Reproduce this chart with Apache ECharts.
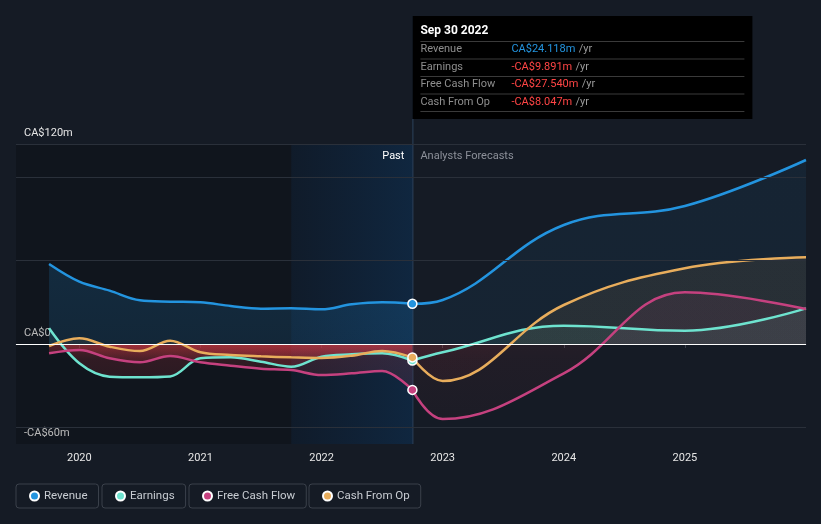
<!DOCTYPE html>
<html><head><meta charset="utf-8">
<script src="https://cdn.jsdelivr.net/npm/echarts@6/dist/echarts.min.js"></script>
<style>html,body{margin:0;padding:0;background:#151b25;}#c{width:821px;height:524px;}</style>
</head><body><div id="c"></div>
<script>
// ---------- data ----------
const pastX = [2019.75, 2020.0, 2020.25, 2020.5, 2020.75, 2021.0, 2021.25, 2021.5, 2021.75, 2022.0, 2022.25, 2022.5, 2022.75];
const revenuePast  = [48, 37.4, 32, 26.2, 25.4, 25, 22.8, 21.2, 21.4, 20.8, 23.8, 25, 24.118];
const earningsPast = [9.4, -11.6, -19.6, -20, -19.5, -8.6, -8, -10.6, -13.6, -7.6, -6.2, -5.6, -9.891];
const fcfPast      = [-5.6, -3.6, -8.6, -11, -7.2, -11, -13, -14.8, -15.6, -18.6, -17.6, -16.2, -27.54];
const cfoPast      = [-1.2, 3.4, -1.6, -4.2, 2, -5, -6.6, -7.4, -8, -8.4, -7, -4.2, -8.047];

const fcX = [2022.75, 2023.0, 2024.0, 2025.0, 2026.0];
const revenueFc  = [24.118, 26.4, 71.4, 82.8, 110.4];
const earningsFc = [-9.891, -5, 11, 8, 21.4];
const fcfFc      = [-27.54, -45, -17.6, 31, 21];
const cfoFc      = [-8.047, -22.2, 23.4, 45.4, 52];

const seriesNames = ['Revenue', 'Earnings', 'Free Cash Flow', 'Cash From Op'];
const yearTicks = [2020, 2021, 2022, 2023, 2024, 2025];
const gridValues = [-50, 50, 100, 120];
const yMin = -60, yMax = 120;
const xMin = 2019.477, xMax = 2026.0;
const highlightStart = 2021.75;
const tooltipDate = 'Sep 30 2022';
const pastLabel = 'Past';
const forecastLabel = 'Analysts Forecasts';

// ---------- chart ----------
const FONT = 'Roboto, "Noto Sans", sans-serif';
const colors = ['#2394df', '#6ee3cf', '#c5417f', '#e8ad5c'];
const pastData = [revenuePast, earningsPast, fcfPast, cfoPast];
const fcData = [revenueFc, earningsFc, fcfFc, cfoFc];
const pairs = (xs, ys) => xs.map((x, i) => [x, ys[i]]);

const chart = echarts.init(document.getElementById('c'));

function rgba(hex, a) {
  const n = parseInt(hex.slice(1), 16);
  return `rgba(${(n >> 16) & 255},${(n >> 8) & 255},${n & 255},${a})`;
}

const baseOption = {
  backgroundColor: '#151b25',
  animation: false,
  textStyle: { fontFamily: FONT },
  grid: { left: 16, right: 15, top: 144, bottom: 80 },
  xAxis: {
    type: 'value', min: xMin, max: xMax,
    splitLine: { show: false },
    axisLine: { show: true, lineStyle: { color: '#3b414b', width: 1 } },
    axisTick: { show: true, customValues: yearTicks, length: 4, lineStyle: { color: '#3b414b' } },
    axisLabel: { customValues: yearTicks, formatter: v => String(Math.round(v)), color: '#e6e6e6', fontSize: 11, margin: 9, fontFamily: FONT }
  },
  yAxis: {
    type: 'value', min: yMin, max: yMax, interval: 60,
    splitLine: { show: false }, axisLine: { show: false }, axisTick: { show: false },
    axisLabel: {
      inside: true, margin: 8, color: '#e6e6e6', fontSize: 11, fontFamily: FONT,
      verticalAlign: 'bottom', padding: [0, 0, 5, 0],
      formatter: v => v === yMax ? 'CA$' + yMax + 'm' : v === 0 ? 'CA$0' : v === yMin ? '-CA$' + Math.abs(yMin) + 'm' : ''
    }
  },
  legend: seriesNames.map((n, i) => ({
    data: [n], left: [16, 102, 189, 309][i], top: 484,
    icon: 'circle', itemWidth: 9, itemHeight: 9,
    padding: [6, 11, 6, 13], borderColor: '#3b414b', borderWidth: 1, borderRadius: 3,
    textStyle: { color: '#c8ccd2', fontSize: 11.5, fontFamily: FONT },
    selectedMode: false
  })),
  series: []
};

chart.setOption(baseOption);

const lastX = pastX[pastX.length - 1];
const lineX = chart.convertToPixel({ xAxisIndex: 0 }, lastX);
const topY = chart.convertToPixel({ yAxisIndex: 0 }, yMax);
const botY = chart.convertToPixel({ yAxisIndex: 0 }, yMin);
const f0 = (yMax - 0) / (yMax - yMin);

function areaGrad(color, aboveTop, aboveZero, redZero, redNear, redBot) {
  return new echarts.graphic.LinearGradient(0, topY, 0, botY, [
    { offset: 0, color: rgba(color, aboveTop) },
    { offset: f0, color: rgba(color, aboveZero) },
    { offset: f0, color: `rgba(230,60,70,${redZero})` },
    { offset: f0 + 0.05, color: `rgba(230,60,70,${redNear})` },
    { offset: 1, color: `rgba(230,60,70,${redBot})` }
  ], true);
}

const series = [];
// background series carrying grid lines, zero line and past shading
series.push({
  type: 'line', data: [[xMin, 0]], symbol: 'none', lineStyle: { opacity: 0 }, silent: true, z: 1,
  markArea: {
    silent: true,
    data: [
      [{ xAxis: xMin, itemStyle: { color: 'rgba(0,0,0,0.2)' } }, { xAxis: lastX }],
      [{ xAxis: highlightStart, itemStyle: {
          color: new echarts.graphic.LinearGradient(0, 0, 1, 0, [
            { offset: 0, color: 'rgba(15,60,110,0.16)' },
            { offset: 1, color: 'rgba(15,65,115,0.4)' }
          ]) } }, { xAxis: lastX }]
    ]
  },
  markLine: {
    silent: true, symbol: 'none', label: { show: false },
    data: gridValues.map(v => ({ yAxis: v, lineStyle: { color: '#2a303a', width: 1, type: 'solid' } }))
      .concat([{ yAxis: 0, lineStyle: { color: '#ffffff', width: 1, type: 'solid' } }])
  }
});

seriesNames.forEach((name, i) => {
  const c = colors[i];
  const isRev = i === 0;
  const n = pastData[i].length;
  series.push({
    name, type: 'line', z: 3, smooth: 0.35,
    data: pairs(pastX, pastData[i]),
    symbol: (v, p) => p.dataIndex === n - 1 ? 'circle' : 'none',
    symbolSize: 9, showSymbol: true,
    itemStyle: { color: c, borderColor: '#ffffff', borderWidth: 1.5 },
    lineStyle: { color: c, width: 2.5 },
    areaStyle: { origin: 0, color: isRev ? areaGrad(c, 0.32, 0.2, 0, 0, 0) : areaGrad(c, 0.1, 0.1, 0.45, 0.22, 0.04) }
  });
  series.push({
    name, type: 'line', z: 2, smooth: 0.4,
    data: pairs(fcX, fcData[i]),
    symbol: 'none',
    itemStyle: { color: c },
    lineStyle: { color: c, width: 2.5 },
    areaStyle: { origin: 0, color: isRev ? areaGrad(c, 0.11, 0.1, 0, 0, 0) : areaGrad(c, 0.12, 0.12, 0.1, 0.08, 0.04) }
  });
});

const fmt = v => (v < 0 ? '-' : '') + 'CA$' + Math.abs(v).toFixed(3) + 'm';
const tipRows = seriesNames.map((nm, i) => {
  const v = pastData[i][pastData[i].length - 1];
  return { nm, v, col: v < 0 ? '#ff4545' : colors[i] };
});

const boxTop = 16, boxW = 340, rowH = 17.5;
const graphics = [
  { type: 'line', z: 1, silent: true, shape: { x1: lineX + 0.5, y1: boxTop, x2: lineX + 0.5, y2: botY },
    style: { stroke: 'rgba(70,115,160,0.45)', lineWidth: 1 } },
  { type: 'rect', z: 100, shape: { x: lineX, y: boxTop, width: boxW, height: 103 }, style: { fill: '#000000' } },
  { type: 'text', z: 101, x: lineX + 8, y: boxTop + 15, style: { text: tooltipDate, fill: '#ffffff', font: `bold 12px ${FONT}`, verticalAlign: 'middle' } },
  { type: 'text', z: 101, x: lineX - 8, y: topY + 12, style: { text: pastLabel, fill: '#ffffff', font: `11px ${FONT}`, align: 'right', verticalAlign: 'middle' } },
  { type: 'text', z: 101, x: lineX + 8, y: topY + 12, style: { text: forecastLabel, fill: '#8c9099', font: `11px ${FONT}`, align: 'left', verticalAlign: 'middle' } }
];
for (let k = 0; k <= tipRows.length; k++) {
  const y = boxTop + 25.5 + k * rowH;
  graphics.push({ type: 'line', z: 101, shape: { x1: lineX + 8, y1: y, x2: lineX + 332, y2: y }, style: { stroke: '#3a3a3a', lineWidth: 1 } });
}
tipRows.forEach((r, k) => {
  const y = boxTop + 33.5 + k * rowH;
  graphics.push({ type: 'text', z: 101, x: lineX + 8, y, style: { text: r.nm, fill: '#8e8e8e', font: `11px ${FONT}`, verticalAlign: 'middle' } });
  graphics.push({ type: 'text', z: 101, x: lineX + 99, y, style: {
    text: `{v|${fmt(r.v)}} {u|/yr}`, verticalAlign: 'middle',
    rich: { v: { fill: r.col, font: `11px ${FONT}` }, u: { fill: '#9a9a9a', font: `11px ${FONT}` } } } });
});

chart.setOption({ series, graphic: graphics });
</script>
</body></html>
